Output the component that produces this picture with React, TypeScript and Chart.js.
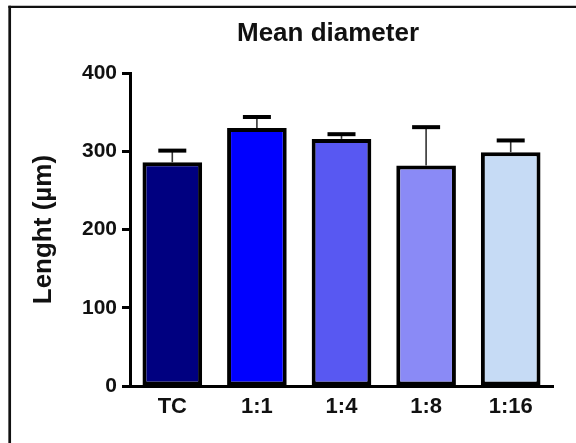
import React, { useEffect, useRef } from 'react';
import { Chart, registerables } from 'chart.js';

Chart.register(...registerables);

const categories = ['TC', '1:1', '1:4', '1:8', '1:16'];
const means = [286, 330, 316, 282, 299];
const sdUpper = [15, 14, 6, 49, 15];
const barColors = ['#000080', '#0000ff', '#5858f2', '#8a8af6', '#c6dbf5'];
const yMin = 0;
const yMax = 400;
const yStep = 100;
const titleText = 'Mean diameter';
const yTitleText = 'Lenght (µm)';

const FONT = '"Liberation Sans", Arial, Helvetica, sans-serif';
const W = 576;
const H = 443;
const AREA_LEFT = 130;
const AREA_BOTTOM = 386;
const TITLE_CENTER_X = 328;

const framePlugin = {
  id: 'frame',
  beforeDraw(chart: any) {
    const { ctx } = chart;
    ctx.save();
    ctx.fillStyle = '#ffffff';
    ctx.fillRect(0, 0, chart.width, chart.height);
    ctx.strokeStyle = '#111';
    ctx.lineWidth = 2.7;
    ctx.beginPath();
    ctx.moveTo(9.7, 5.7);
    ctx.lineTo(9.7, chart.height);
    ctx.stroke();
    ctx.lineWidth = 2.3;
    ctx.beginPath();
    ctx.moveTo(8.4, 6.8);
    ctx.lineTo(chart.width, 6.8);
    ctx.stroke();
    ctx.restore();
  },
};

const titleShiftPlugin = {
  id: 'titleShift',
  afterLayout(chart: any) {
    const t = chart.titleBlock;
    if (!t) return;
    const shift = TITLE_CENTER_X - (t.left + t.right) / 2;
    t.left += shift;
    t.right += shift;
  },
};

const errorBarPlugin = {
  id: 'errorBars',
  afterDatasetsDraw(chart: any) {
    const { ctx } = chart;
    const meta = chart.getDatasetMeta(0);
    const y = chart.scales.y;
    ctx.save();
    meta.data.forEach((bar: any, i: number) => {
      const x = bar.x;
      const top = y.getPixelForValue(means[i]);
      const hi = y.getPixelForValue(means[i] + sdUpper[i]);
      ctx.strokeStyle = '#333';
      ctx.lineWidth = 1.6;
      ctx.beginPath();
      ctx.moveTo(x, top);
      ctx.lineTo(x, hi);
      ctx.stroke();
      ctx.strokeStyle = '#000';
      ctx.lineWidth = 4;
      ctx.beginPath();
      ctx.moveTo(x - 14, hi);
      ctx.lineTo(x + 14, hi);
      ctx.stroke();
    });
    ctx.restore();
  },
};

export default function App() {
  const ref = useRef<HTMLCanvasElement | null>(null);

  useEffect(() => {
    if (!ref.current) return;
    const chart = new Chart(ref.current, {
      type: 'bar',
      data: {
        labels: categories,
        datasets: [
          {
            data: means,
            backgroundColor: barColors,
            borderColor: '#000',
            borderWidth: 4,
            borderSkipped: false,
            categoryPercentage: 1,
            barPercentage: 0.705,
          },
        ],
      },
      options: {
        responsive: false,
        animation: false,
        devicePixelRatio: 1,
        layout: { padding: { left: 0, right: 23, top: 0, bottom: 0 } },
        plugins: {
          legend: { display: false },
          tooltip: { enabled: false },
          title: {
            display: true,
            text: titleText,
            color: '#111',
            font: { family: FONT, size: 26, weight: 'bold' },
            padding: { top: 18, bottom: 24 },
          },
        },
        scales: {
          x: {
            grid: { display: false, drawTicks: false },
            border: { display: true, width: 3, color: '#000' },
            ticks: {
              color: '#111',
              font: { family: FONT, size: 22, weight: 'bold' },
              padding: 8,
            },
            afterFit(s: any) {
              s.height = H - AREA_BOTTOM;
            },
          },
          y: {
            min: yMin,
            max: yMax,
            ticks: {
              stepSize: yStep,
              color: '#111',
              font: { family: FONT, size: 21, weight: 'bold' },
              padding: 5,
            },
            grid: {
              drawOnChartArea: false,
              drawTicks: true,
              tickLength: 8,
              tickWidth: 3,
              tickColor: '#000',
            },
            border: { display: true, width: 3, color: '#000' },
            title: {
              display: true,
              text: yTitleText,
              color: '#111',
              font: { family: FONT, size: 26, weight: 'bold' },
              padding: { top: 28, bottom: 0 },
            },
            afterFit(s: any) {
              s.width = AREA_LEFT;
            },
          },
        },
      },
      plugins: [framePlugin, titleShiftPlugin, errorBarPlugin],
    } as any);
    return () => chart.destroy();
  }, []);

  return (
    <div style={{ position: 'absolute', left: 0, top: 0, width: W, height: H }}>
      <canvas ref={ref} width={W} height={H} style={{ display: 'block', width: W, height: H }} />
    </div>
  );
}
